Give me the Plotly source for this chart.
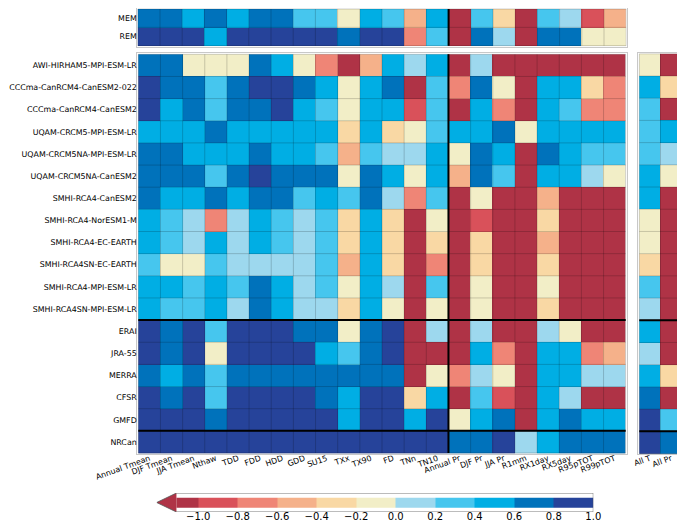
import plotly.graph_objects as go

# Indices (colonnes) et jeux de données (lignes)
indices = ["Annual Tmean", "DJF Tmean", "JJA Tmean", "Nthaw", "TDD", "FDD", "HDD", "GDD",
           "SU15", "TXx", "TX90", "FD", "TNn", "TN10", "Annual Pr", "DJF Pr", "JJA Pr",
           "R1mm", "RX1day", "RX5day", "R95pTOT", "R99pTOT"]
ensembles = ["MEM", "REM"]
simulations = ["AWI-HIRHAM5-MPI-ESM-LR", "CCCma-CanRCM4-CanESM2-022", "CCCma-CanRCM4-CanESM2",
               "UQAM-CRCM5-MPI-ESM-LR", "UQAM-CRCM5NA-MPI-ESM-LR", "UQAM-CRCM5NA-CanESM2",
               "SMHI-RCA4-CanESM2", "SMHI-RCA4-NorESM1-M", "SMHI-RCA4-EC-EARTH",
               "SMHI-RCA4SN-EC-EARTH", "SMHI-RCA4-MPI-ESM-LR", "SMHI-RCA4SN-MPI-ESM-LR",
               "ERAI", "JRA-55", "MERRA", "CFSR", "GMFD", "NRCan"]
globaux = ["All T", "All Pr"]

# Scores (centre de la classe de couleur)
scores_ens = [
    [0.7, 0.7, 0.5, 0.7, 0.5, 0.7, 0.7, 0.3, 0.3, -0.1, 0.5, 0.3, -0.5, 0.5, -1.1, 0.3, -0.3, -1.1, 0.3, 0.1, -0.9, -0.5],
    [0.9, 0.9, 0.9, 0.5, 0.9, 0.9, 0.9, 0.9, 0.9, 0.7, 0.9, 0.9, -0.7, 0.3, -1.1, 0.7, 0.1, -1.1, 0.7, 0.7, -0.1, -0.1],
]
scores_sim = [
    [0.7, 0.7, -0.1, -0.1, -0.1, 0.7, 0.5, -0.1, -0.7, -1.1, -0.5, 0.5, 0.1, 0.5, -1.1, 0.1, -1.1, -1.1, -1.1, -1.1, -1.1, -1.1],
    [0.9, 0.7, 0.7, 0.3, 0.7, 0.9, 0.9, 0.7, 0.5, -0.1, 0.5, 0.7, -1.1, 0.3, -0.7, 0.7, -0.1, -1.1, 0.5, 0.5, -0.3, -0.7],
    [0.9, 0.5, 0.7, 0.3, 0.7, 0.7, 0.9, 0.5, 0.3, -0.1, 0.5, 0.5, -0.9, 0.3, -1.1, 0.5, -0.7, -1.1, 0.5, 0.3, -0.7, -0.7],
    [0.5, 0.5, 0.5, 0.7, 0.5, 0.5, 0.5, 0.5, 0.5, -0.3, 0.5, -0.3, -0.1, 0.3, 0.5, 0.5, 0.7, -0.1, 0.5, 0.5, 0.5, 0.5],
    [0.7, 0.7, 0.5, 0.5, 0.5, 0.7, 0.5, 0.5, 0.3, -0.5, 0.3, 0.1, 0.1, 0.5, -0.1, 0.7, 0.5, -1.1, 0.7, 0.5, 0.3, 0.3],
    [0.7, 0.7, 0.7, 0.3, 0.7, 0.9, 0.7, 0.7, 0.7, -0.1, 0.7, 0.5, -0.1, 0.5, -0.5, 0.7, 0.3, -1.1, 0.5, 0.5, 0.1, -0.1],
    [0.7, 0.5, 0.5, 0.7, 0.5, 0.7, 0.7, 0.3, 0.5, 0.3, 0.7, 0.1, -0.7, 0.3, -1.1, -0.1, -1.1, -1.1, -0.5, -1.1, -1.1, -1.1],
    [0.5, 0.3, 0.1, -0.7, 0.1, 0.5, 0.3, 0.1, 0.3, -0.3, 0.5, -0.3, -1.1, -0.1, -1.1, -0.9, -1.1, -1.1, -0.3, -1.1, -1.1, -1.1],
    [0.5, 0.3, 0.1, 0.5, 0.1, 0.5, 0.3, 0.1, 0.3, -0.3, 0.5, -0.3, -1.1, -0.3, -1.1, -0.3, -1.1, -1.1, -0.5, -1.1, -1.1, -1.1],
    [0.3, -0.1, -0.1, 0.3, 0.1, 0.1, 0.1, 0.1, 0.3, -0.5, 0.5, -0.3, -1.1, -0.7, -1.1, -0.3, -1.1, -1.1, -0.3, -1.1, -1.1, -1.1],
    [0.5, 0.5, 0.3, 0.5, 0.3, 0.7, 0.5, 0.1, 0.3, -0.1, 0.5, 0.1, -1.1, 0.3, -1.1, -0.1, -1.1, -1.1, -0.1, -1.1, -1.1, -1.1],
    [0.5, 0.3, 0.3, 0.5, 0.1, 0.7, 0.5, 0.1, 0.1, -0.3, 0.5, -0.1, -1.1, -0.1, -1.1, -0.1, -1.1, -1.1, -0.3, -1.1, -1.1, -1.1],
    [0.9, 0.7, 0.9, 0.3, 0.9, 0.9, 0.9, 0.7, 0.7, -0.1, 0.7, 0.9, -1.1, 0.1, -1.1, 0.1, -1.1, -1.1, 0.1, -0.1, -1.1, -1.1],
    [0.9, 0.7, 0.9, -0.1, 0.9, 0.9, 0.9, 0.9, 0.5, 0.3, 0.7, 0.9, -1.1, -1.1, -1.1, 0.5, -0.7, -1.1, 0.5, 0.5, -0.7, -0.5],
    [0.7, 0.5, 0.7, 0.3, 0.7, 0.7, 0.7, 0.7, 0.7, 0.7, 0.7, 0.7, -1.1, -0.1, -0.7, 0.1, -0.1, -1.1, 0.5, 0.5, 0.1, 0.1],
    [0.9, 0.7, 0.9, 0.3, 0.9, 0.9, 0.9, 0.9, 0.7, 0.5, 0.9, 0.9, -0.3, 0.5, -1.1, 0.3, -0.9, -1.1, 0.5, 0.1, -1.1, -1.1],
    [0.9, 0.9, 0.9, 0.7, 0.9, 0.9, 0.9, 0.9, 0.9, 0.5, 0.9, 0.9, 0.5, 0.9, -0.1, 0.5, 0.7, -1.1, 0.5, 0.7, 0.5, 0.5],
    [0.9, 0.9, 0.9, 0.9, 0.9, 0.9, 0.9, 0.9, 0.9, 0.9, 0.9, 0.9, 0.9, 0.9, 0.7, 0.7, 0.9, 0.1, 0.5, 0.7, 0.7, 0.7],
]
scores_glob = [
    [-0.1, -1.1], [0.5, -0.3], [0.3, -1.1], [0.3, 0.5], [0.3, 0.1], [0.5, -0.1],
    [0.5, -1.1], [-0.1, -1.1], [-0.1, -1.1], [-0.3, -1.1], [0.3, -1.1], [0.1, -1.1],
    [0.5, -1.1], [0.1, -1.1], [0.5, -0.3], [0.7, -1.1], [0.9, 0.3], [0.9, 0.7],
]

# Barre de couleur : bornes des classes et valeurs
bornes = [-1.11, -1.0, -0.8, -0.6, -0.4, -0.2, 0.0, 0.2, 0.4, 0.6, 0.8, 1.0]
niveaux = [-1.1, -0.9, -0.7, -0.5, -0.3, -0.1, 0.1, 0.3, 0.5, 0.7, 0.9]
graduations = [-1.0, -0.8, -0.6, -0.4, -0.2, 0.0, 0.2, 0.4, 0.6, 0.8, 1.0]

couleurs = ["#af3346", "#d9515a", "#ef8576", "#f5b18a", "#f9d8a4", "#f2eec7",
            "#9dd8ee", "#46c6ee", "#00aee4", "#0072bb", "#26439a"]
echelle = []
for i, c in enumerate(couleurs):
    echelle += [[i / 11, c], [(i + 1) / 11, c]]

# la page ajoute une marge de 8 px : figure un peu plus petite que la fenêtre
W, H = 677, 516


def dom_x(a, b):
    return [max(a, 0) / W, min(b, W) / W]


def dom_y(a, b):
    return [1 - min(b, H) / H, 1 - max(a, 0) / H]


POLICE = "DejaVu Sans"
fig = go.Figure()
commun = dict(colorscale=echelle, zmin=-1.2, zmax=1.0, showscale=False, hoverongaps=False)
fig.add_trace(go.Heatmap(z=scores_ens, x=indices, y=ensembles, xaxis="x", yaxis="y", **commun))
fig.add_trace(go.Heatmap(z=scores_sim, x=indices, y=simulations, xaxis="x2", yaxis="y2", **commun))
fig.add_trace(go.Heatmap(z=scores_glob, x=globaux, y=simulations, xaxis="x3", yaxis="y3", **commun))
fig.add_trace(go.Heatmap(z=[niveaux], x=bornes, y=[0, 1], xaxis="x4", yaxis="y4", **commun))

axe = dict(showgrid=False, zeroline=False, showline=True, linecolor="#c8c8c8", mirror=True,
           automargin=False, ticks="",
           tickfont=dict(size=7.9, color="black", family=POLICE))
fig.update_layout(
    width=W, height=H, margin=dict(l=0, r=0, t=0, b=0),
    paper_bgcolor="white", plot_bgcolor="white",
    font=dict(family=POLICE, color="black"),
    xaxis=dict(axe, domain=dom_x(129.3, 618.7), anchor="y", showticklabels=False),
    yaxis=dict(axe, domain=dom_y(0, 38.7), anchor="x", autorange="reversed",
               ticklabelstandoff=-2),
    xaxis2=dict(axe, domain=dom_x(129.3, 618.7), anchor="y2", tickangle=-20,
                ticklabelstandoff=-4),
    yaxis2=dict(axe, domain=dom_y(45.3, 446), anchor="x2", autorange="reversed",
                ticklabelstandoff=-2),
    xaxis3=dict(axe, domain=dom_x(630.3, 674.7), anchor="y3", tickangle=-20,
                ticklabelstandoff=-4),
    yaxis3=dict(axe, domain=dom_y(45.3, 446), anchor="x3", autorange="reversed",
                showticklabels=False),
    xaxis4=dict(domain=dom_x(148.7, 585.3), anchor="y4", range=[-1.21, 1.0],
                showgrid=False, zeroline=False, showline=False, automargin=False,
                tickvals=graduations,
                ticktext=[f"{v:.1f}".replace("-", "\u2212") for v in graduations],
                ticks="", ticklabelstandoff=-3,
                tickfont=dict(size=10, color="black", family=POLICE)),
    yaxis4=dict(domain=dom_y(485, 504), anchor="x4", range=[-0.5, 1.5], visible=False,
                automargin=False),
)

formes = []
fin = dict(color="rgba(0,0,0,0.18)", width=1)
epais = dict(color="black", width=2)


def grille(xr, yr, nx, ny):
    for i in range(nx + 1):
        formes.append(dict(type="line", xref=xr, yref=yr, x0=i - 0.5, x1=i - 0.5,
                           y0=-0.5, y1=ny - 0.5, line=fin, layer="above"))
    for j in range(ny + 1):
        formes.append(dict(type="line", xref=xr, yref=yr, x0=-0.5, x1=nx - 0.5,
                           y0=j - 0.5, y1=j - 0.5, line=fin, layer="above"))


grille("x", "y", len(indices), len(ensembles))
grille("x2", "y2", len(indices), len(simulations))
grille("x3", "y3", len(globaux), len(simulations))

# séparateurs : température / précipitation, modèles / réanalyses / NRCan
formes.append(dict(type="line", xref="x", yref="y", x0=13.5, x1=13.5, y0=-0.5, y1=1.5,
                   line=epais, layer="above"))
formes.append(dict(type="line", xref="x2", yref="y2", x0=13.5, x1=13.5, y0=-0.5, y1=17.5,
                   line=epais, layer="above"))
for yy in (11.5, 16.5):
    formes.append(dict(type="line", xref="x2", yref="y2", x0=-0.5, x1=21.5, y0=yy, y1=yy,
                       line=epais, layer="above"))
    formes.append(dict(type="line", xref="x3", yref="y3", x0=-0.5, x1=1.5, y0=yy, y1=yy,
                       line=epais, layer="above"))

# extension triangulaire de la barre de couleur
formes.append(dict(type="path", xref="x4", yref="y4",
                   path="M -1.11,-0.5 L -1.21,0.5 L -1.11,1.5 Z",
                   fillcolor=couleurs[0], line=dict(width=0), layer="above"))
formes.append(dict(type="path", xref="x4", yref="y4",
                   path="M -1.11,-0.5 L 1.0,-0.5 L 1.0,1.5 L -1.11,1.5 L -1.21,0.5 Z",
                   line=dict(color="#555", width=0.8), layer="above"))
fig.update_layout(shapes=formes)

fig.write_html("out.html")
